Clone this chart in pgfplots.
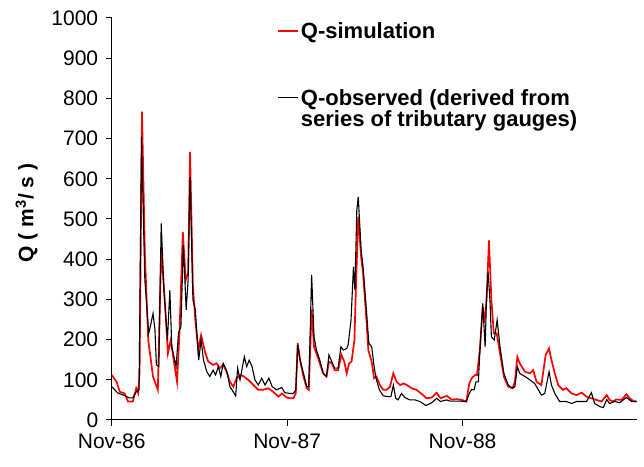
\documentclass[border=0pt]{standalone}
\usepackage{pgfplots}
\pgfplotsset{compat=1.18}
\usepackage{pgfplotstable}
\usepackage{fontspec}
\setmainfont{Liberation Sans}

\pgfplotstableread{
day q
0 112
10 95
17 70
27 66
34 46
44 46
51 79
55 67
58 117
63 767
69 415
76 199
86 108
96 75
103 423
110 307
117 166
123 199
128 157
136 95
141 216
148 468
154 348
159 365
163 667
169 332
174 249
180 174
186 211
194 170
201 145
211 137
218 141
225 129
232 137
239 120
246 95
253 83
260 104
267 112
274 109
284 100
295 87
305 75
315 75
326 79
336 70
347 58
354 66
364 56
371 54
378 54
383 66
387 191
392 149
399 108
406 79
410 75
416 274
421 182
426 166
433 141
440 116
447 108
452 145
458 141
464 124
471 124
478 162
484 145
489 116
494 141
499 145
505 199
508 323
513 506
519 406
523 365
530 249
534 174
541 145
546 104
551 108
558 87
565 75
572 75
579 83
586 116
593 95
600 87
607 91
614 87
624 79
634 75
645 65
655 54
666 56
676 68
684 54
697 60
707 51
718 52
728 50
738 46
744 91
749 104
756 112
760 112
766 174
772 282
775 241
780 299
785 447
790 299
795 216
801 216
808 166
816 108
825 83
834 79
839 95
844 157
849 141
860 120
870 116
877 124
884 95
894 87
903 162
910 178
915 149
922 116
929 87
939 75
946 79
957 66
967 62
978 68
988 58
998 54
1009 50
1019 46
1030 62
1036 50
1043 46
1050 51
1061 50
1071 64
1078 54
1085 47
1092 46
}\simtable

\pgfplotstableread{
day q
0 83
13 67
24 62
37 55
44 55
51 70
57 75
62 705
69 348
77 216
81 236
86 265
90 224
93 137
98 133
103 489
109 315
116 199
121 323
125 182
134 133
139 216
144 232
149 435
155 274
159 348
163 605
169 299
174 274
181 149
186 199
191 149
198 120
204 108
211 124
216 112
222 133
227 108
232 141
239 124
246 83
253 70
258 60
262 129
267 100
276 157
281 133
286 149
292 133
298 100
305 87
312 104
319 87
327 104
334 83
343 75
354 81
360 68
371 66
378 66
383 75
387 187
392 149
399 116
406 83
410 83
416 361
421 207
426 174
433 149
440 116
447 108
452 162
458 145
464 129
471 129
477 182
482 174
489 178
492 187
498 249
503 381
506 323
510 522
513 555
519 423
523 381
530 274
535 191
541 182
546 133
550 104
557 75
565 60
575 58
581 58
586 87
591 54
596 50
603 66
610 56
620 50
631 50
641 46
654 36
666 43
676 54
684 46
697 50
704 47
725 47
738 46
744 66
749 76
754 75
758 95
763 95
766 170
772 290
777 182
780 307
783 369
787 299
790 207
796 199
802 249
808 182
816 116
825 87
834 79
839 83
844 133
849 116
860 108
870 100
880 91
894 62
901 66
910 120
915 87
922 66
932 46
946 46
957 41
967 46
988 46
998 68
1005 41
1016 33
1023 31
1030 51
1036 41
1047 46
1057 43
1071 56
1082 46
1092 46
}\obstable

\begin{document}
\begin{tikzpicture}
\path[use as bounding box] (-111.7bp,-47bp) rectangle (532.3bp,420bp);
\begin{axis}[
  scale only axis,
  width=525.3bp, height=402bp,
  xmin=0, xmax=1093,
  ymin=0, ymax=1000,
  xtick={0,365,730},
  xticklabels={Nov-86,Nov-87,Nov-88},
  ytick distance=100,
  axis lines*=left,
  axis line style={black, line width=1bp},
  tick align=outside,
  major tick length=6bp,
  tick style={black, line width=1bp},
  /pgf/number format/assume math mode=true,
  /pgf/number format/1000 sep={},
  tick label style={font=\fontsize{21bp}{24bp}\selectfont},
  yticklabel style={xshift=-4bp},
  xticklabel style={yshift=-4bp},
  ylabel={\textbf{Q ( m\textsuperscript{3}/ s )}},
  ylabel style={font=\fontsize{21bp}{24bp}\selectfont, at={(axis description cs:-0.162,0.515)}, anchor=center},
  legend style={at={(axis description cs:0.3147,0.995)}, anchor=north west, draw=none, fill=none,
    font=\fontsize{22bp}{25bp}\selectfont\bfseries, row sep=0bp, inner sep=0bp},
  legend cell align=left,
  legend image code/.code={\draw[#1] (0bp,0bp) -- (20bp,0bp);},
]
\addplot[red, line width=1.7bp] table[x=day, y=q] {\simtable};
\addlegendentry{Q-simulation}
\addlegendimage{empty legend}
\addlegendentry{\rule{0pt}{40bp}}
\addplot[black, line width=1.1bp] table[x=day, y=q] {\obstable};
\addlegendentry{Q-observed (derived from}
\addlegendimage{empty legend}
\addlegendentry{series of tributary gauges)}
\end{axis}
\end{tikzpicture}
\end{document}
